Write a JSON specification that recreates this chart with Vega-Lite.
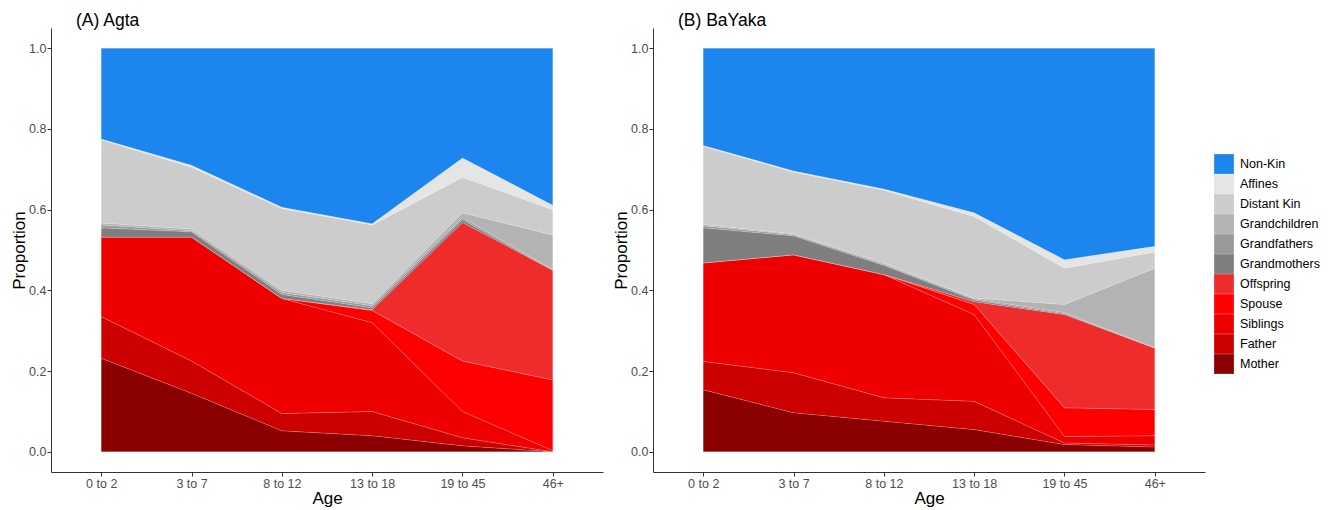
{
  "$schema": "https://vega.github.io/schema/vega-lite/v6.json",
  "padding": {"left": 10, "top": 12, "right": 5, "bottom": 2},
  "background": "white",
  "config": {
    "view": {"stroke": null},
    "font": "Liberation Sans",
    "axis": {"grid": false, "domainColor": "#333333", "domainWidth": 1, "tickColor": "#333333", "tickSize": 4, "labelColor": "#4D4D4D", "labelFontSize": 12.5, "labelFont": "Liberation Sans", "titleFont": "Liberation Sans", "titleFontSize": 17, "titleFontWeight": "normal", "titleColor": "#000000", "labelPadding": 1},
    "title": {"font": "Liberation Sans", "fontSize": 17.5, "fontWeight": "normal", "color": "#000000", "anchor": "start", "frame": "group", "dx": 25, "offset": -1.5},
    "concat": {"spacing": 9}
  },
  "datasets": {
    "kinorder": [
      {"kin": "Mother", "k": 1},
      {"kin": "Father", "k": 2},
      {"kin": "Siblings", "k": 3},
      {"kin": "Spouse", "k": 4},
      {"kin": "Offspring", "k": 5},
      {"kin": "Grandmothers", "k": 6},
      {"kin": "Grandfathers", "k": 7},
      {"kin": "Grandchildren", "k": 8},
      {"kin": "Distant Kin", "k": 9},
      {"kin": "Affines", "k": 10},
      {"kin": "Non-Kin", "k": 11}
    ]
  },
  "data": {"values": [
    {"panel": "A", "age": "0 to 2", "kin": "Mother", "p": 0.232},
    {"panel": "A", "age": "0 to 2", "kin": "Father", "p": 0.103},
    {"panel": "A", "age": "0 to 2", "kin": "Siblings", "p": 0.197},
    {"panel": "A", "age": "0 to 2", "kin": "Spouse", "p": 0.0},
    {"panel": "A", "age": "0 to 2", "kin": "Offspring", "p": 0.0},
    {"panel": "A", "age": "0 to 2", "kin": "Grandmothers", "p": 0.023},
    {"panel": "A", "age": "0 to 2", "kin": "Grandfathers", "p": 0.007},
    {"panel": "A", "age": "0 to 2", "kin": "Grandchildren", "p": 0.005},
    {"panel": "A", "age": "0 to 2", "kin": "Distant Kin", "p": 0.206},
    {"panel": "A", "age": "0 to 2", "kin": "Affines", "p": 0.002},
    {"panel": "A", "age": "0 to 2", "kin": "Non-Kin", "p": 0.225},
    {"panel": "A", "age": "3 to 7", "kin": "Mother", "p": 0.145},
    {"panel": "A", "age": "3 to 7", "kin": "Father", "p": 0.08},
    {"panel": "A", "age": "3 to 7", "kin": "Siblings", "p": 0.307},
    {"panel": "A", "age": "3 to 7", "kin": "Spouse", "p": 0.0},
    {"panel": "A", "age": "3 to 7", "kin": "Offspring", "p": 0.0},
    {"panel": "A", "age": "3 to 7", "kin": "Grandmothers", "p": 0.013},
    {"panel": "A", "age": "3 to 7", "kin": "Grandfathers", "p": 0.003},
    {"panel": "A", "age": "3 to 7", "kin": "Grandchildren", "p": 0.004},
    {"panel": "A", "age": "3 to 7", "kin": "Distant Kin", "p": 0.153},
    {"panel": "A", "age": "3 to 7", "kin": "Affines", "p": 0.005},
    {"panel": "A", "age": "3 to 7", "kin": "Non-Kin", "p": 0.29},
    {"panel": "A", "age": "8 to 12", "kin": "Mother", "p": 0.052},
    {"panel": "A", "age": "8 to 12", "kin": "Father", "p": 0.043},
    {"panel": "A", "age": "8 to 12", "kin": "Siblings", "p": 0.285},
    {"panel": "A", "age": "8 to 12", "kin": "Spouse", "p": 0.0},
    {"panel": "A", "age": "8 to 12", "kin": "Offspring", "p": 0.0},
    {"panel": "A", "age": "8 to 12", "kin": "Grandmothers", "p": 0.01},
    {"panel": "A", "age": "8 to 12", "kin": "Grandfathers", "p": 0.005},
    {"panel": "A", "age": "8 to 12", "kin": "Grandchildren", "p": 0.005},
    {"panel": "A", "age": "8 to 12", "kin": "Distant Kin", "p": 0.203},
    {"panel": "A", "age": "8 to 12", "kin": "Affines", "p": 0.003},
    {"panel": "A", "age": "8 to 12", "kin": "Non-Kin", "p": 0.394},
    {"panel": "A", "age": "13 to 18", "kin": "Mother", "p": 0.04},
    {"panel": "A", "age": "13 to 18", "kin": "Father", "p": 0.06},
    {"panel": "A", "age": "13 to 18", "kin": "Siblings", "p": 0.22},
    {"panel": "A", "age": "13 to 18", "kin": "Spouse", "p": 0.03},
    {"panel": "A", "age": "13 to 18", "kin": "Offspring", "p": 0.002},
    {"panel": "A", "age": "13 to 18", "kin": "Grandmothers", "p": 0.005},
    {"panel": "A", "age": "13 to 18", "kin": "Grandfathers", "p": 0.005},
    {"panel": "A", "age": "13 to 18", "kin": "Grandchildren", "p": 0.005},
    {"panel": "A", "age": "13 to 18", "kin": "Distant Kin", "p": 0.195},
    {"panel": "A", "age": "13 to 18", "kin": "Affines", "p": 0.003},
    {"panel": "A", "age": "13 to 18", "kin": "Non-Kin", "p": 0.435},
    {"panel": "A", "age": "19 to 45", "kin": "Mother", "p": 0.015},
    {"panel": "A", "age": "19 to 45", "kin": "Father", "p": 0.02},
    {"panel": "A", "age": "19 to 45", "kin": "Siblings", "p": 0.065},
    {"panel": "A", "age": "19 to 45", "kin": "Spouse", "p": 0.125},
    {"panel": "A", "age": "19 to 45", "kin": "Offspring", "p": 0.343},
    {"panel": "A", "age": "19 to 45", "kin": "Grandmothers", "p": 0.007},
    {"panel": "A", "age": "19 to 45", "kin": "Grandfathers", "p": 0.005},
    {"panel": "A", "age": "19 to 45", "kin": "Grandchildren", "p": 0.012},
    {"panel": "A", "age": "19 to 45", "kin": "Distant Kin", "p": 0.088},
    {"panel": "A", "age": "19 to 45", "kin": "Affines", "p": 0.048},
    {"panel": "A", "age": "19 to 45", "kin": "Non-Kin", "p": 0.272},
    {"panel": "A", "age": "46+", "kin": "Mother", "p": 0.0},
    {"panel": "A", "age": "46+", "kin": "Father", "p": 0.0},
    {"panel": "A", "age": "46+", "kin": "Siblings", "p": 0.003},
    {"panel": "A", "age": "46+", "kin": "Spouse", "p": 0.175},
    {"panel": "A", "age": "46+", "kin": "Offspring", "p": 0.272},
    {"panel": "A", "age": "46+", "kin": "Grandmothers", "p": 0.0},
    {"panel": "A", "age": "46+", "kin": "Grandfathers", "p": 0.002},
    {"panel": "A", "age": "46+", "kin": "Grandchildren", "p": 0.085},
    {"panel": "A", "age": "46+", "kin": "Distant Kin", "p": 0.063},
    {"panel": "A", "age": "46+", "kin": "Affines", "p": 0.011},
    {"panel": "A", "age": "46+", "kin": "Non-Kin", "p": 0.389},
    {"panel": "B", "age": "0 to 2", "kin": "Mother", "p": 0.154},
    {"panel": "B", "age": "0 to 2", "kin": "Father", "p": 0.07},
    {"panel": "B", "age": "0 to 2", "kin": "Siblings", "p": 0.244},
    {"panel": "B", "age": "0 to 2", "kin": "Spouse", "p": 0.0},
    {"panel": "B", "age": "0 to 2", "kin": "Offspring", "p": 0.0},
    {"panel": "B", "age": "0 to 2", "kin": "Grandmothers", "p": 0.087},
    {"panel": "B", "age": "0 to 2", "kin": "Grandfathers", "p": 0.005},
    {"panel": "B", "age": "0 to 2", "kin": "Grandchildren", "p": 0.003},
    {"panel": "B", "age": "0 to 2", "kin": "Distant Kin", "p": 0.194},
    {"panel": "B", "age": "0 to 2", "kin": "Affines", "p": 0.002},
    {"panel": "B", "age": "0 to 2", "kin": "Non-Kin", "p": 0.241},
    {"panel": "B", "age": "3 to 7", "kin": "Mother", "p": 0.097},
    {"panel": "B", "age": "3 to 7", "kin": "Father", "p": 0.099},
    {"panel": "B", "age": "3 to 7", "kin": "Siblings", "p": 0.292},
    {"panel": "B", "age": "3 to 7", "kin": "Spouse", "p": 0.0},
    {"panel": "B", "age": "3 to 7", "kin": "Offspring", "p": 0.0},
    {"panel": "B", "age": "3 to 7", "kin": "Grandmothers", "p": 0.047},
    {"panel": "B", "age": "3 to 7", "kin": "Grandfathers", "p": 0.003},
    {"panel": "B", "age": "3 to 7", "kin": "Grandchildren", "p": 0.002},
    {"panel": "B", "age": "3 to 7", "kin": "Distant Kin", "p": 0.153},
    {"panel": "B", "age": "3 to 7", "kin": "Affines", "p": 0.003},
    {"panel": "B", "age": "3 to 7", "kin": "Non-Kin", "p": 0.304},
    {"panel": "B", "age": "8 to 12", "kin": "Mother", "p": 0.076},
    {"panel": "B", "age": "8 to 12", "kin": "Father", "p": 0.058},
    {"panel": "B", "age": "8 to 12", "kin": "Siblings", "p": 0.305},
    {"panel": "B", "age": "8 to 12", "kin": "Spouse", "p": 0.0},
    {"panel": "B", "age": "8 to 12", "kin": "Offspring", "p": 0.0},
    {"panel": "B", "age": "8 to 12", "kin": "Grandmothers", "p": 0.023},
    {"panel": "B", "age": "8 to 12", "kin": "Grandfathers", "p": 0.003},
    {"panel": "B", "age": "8 to 12", "kin": "Grandchildren", "p": 0.003},
    {"panel": "B", "age": "8 to 12", "kin": "Distant Kin", "p": 0.18},
    {"panel": "B", "age": "8 to 12", "kin": "Affines", "p": 0.003},
    {"panel": "B", "age": "8 to 12", "kin": "Non-Kin", "p": 0.349},
    {"panel": "B", "age": "13 to 18", "kin": "Mother", "p": 0.055},
    {"panel": "B", "age": "13 to 18", "kin": "Father", "p": 0.07},
    {"panel": "B", "age": "13 to 18", "kin": "Siblings", "p": 0.215},
    {"panel": "B", "age": "13 to 18", "kin": "Spouse", "p": 0.025},
    {"panel": "B", "age": "13 to 18", "kin": "Offspring", "p": 0.007},
    {"panel": "B", "age": "13 to 18", "kin": "Grandmothers", "p": 0.004},
    {"panel": "B", "age": "13 to 18", "kin": "Grandfathers", "p": 0.003},
    {"panel": "B", "age": "13 to 18", "kin": "Grandchildren", "p": 0.002},
    {"panel": "B", "age": "13 to 18", "kin": "Distant Kin", "p": 0.202},
    {"panel": "B", "age": "13 to 18", "kin": "Affines", "p": 0.009},
    {"panel": "B", "age": "13 to 18", "kin": "Non-Kin", "p": 0.408},
    {"panel": "B", "age": "19 to 45", "kin": "Mother", "p": 0.018},
    {"panel": "B", "age": "19 to 45", "kin": "Father", "p": 0.004},
    {"panel": "B", "age": "19 to 45", "kin": "Siblings", "p": 0.016},
    {"panel": "B", "age": "19 to 45", "kin": "Spouse", "p": 0.071},
    {"panel": "B", "age": "19 to 45", "kin": "Offspring", "p": 0.231},
    {"panel": "B", "age": "19 to 45", "kin": "Grandmothers", "p": 0.002},
    {"panel": "B", "age": "19 to 45", "kin": "Grandfathers", "p": 0.003},
    {"panel": "B", "age": "19 to 45", "kin": "Grandchildren", "p": 0.02},
    {"panel": "B", "age": "19 to 45", "kin": "Distant Kin", "p": 0.09},
    {"panel": "B", "age": "19 to 45", "kin": "Affines", "p": 0.021},
    {"panel": "B", "age": "19 to 45", "kin": "Non-Kin", "p": 0.524},
    {"panel": "B", "age": "46+", "kin": "Mother", "p": 0.012},
    {"panel": "B", "age": "46+", "kin": "Father", "p": 0.005},
    {"panel": "B", "age": "46+", "kin": "Siblings", "p": 0.023},
    {"panel": "B", "age": "46+", "kin": "Spouse", "p": 0.065},
    {"panel": "B", "age": "46+", "kin": "Offspring", "p": 0.152},
    {"panel": "B", "age": "46+", "kin": "Grandmothers", "p": 0.0},
    {"panel": "B", "age": "46+", "kin": "Grandfathers", "p": 0.001},
    {"panel": "B", "age": "46+", "kin": "Grandchildren", "p": 0.197},
    {"panel": "B", "age": "46+", "kin": "Distant Kin", "p": 0.04},
    {"panel": "B", "age": "46+", "kin": "Affines", "p": 0.014},
    {"panel": "B", "age": "46+", "kin": "Non-Kin", "p": 0.491}
  ]},
  "hconcat": [
    {
      "title": "(A) Agta",
      "width": 552,
      "height": 444,
      "transform": [
        {"filter": "datum.panel === 'A'"},
        {"lookup": "kin", "from": {"data": {"name": "kinorder"}, "key": "kin", "fields": ["k"]}}
      ],
      "mark": {"type": "area", "stroke": "#ffffff", "strokeOpacity": 0.25, "strokeWidth": 0.6},
      "encoding": {
        "x": {"field": "age", "type": "ordinal", "sort": ["0 to 2", "3 to 7", "8 to 12", "13 to 18", "19 to 45", "46+"], "scale": {"type": "point", "padding": 0.556}, "axis": {"title": "Age", "labelAngle": 0, "titlePadding": 1}},
        "y": {"field": "p", "type": "quantitative", "stack": "zero", "scale": {"domain": [-0.05, 1.05], "nice": false, "zero": false}, "axis": {"title": "Proportion", "values": [0, 0.2, 0.4, 0.6, 0.8, 1.0], "format": ".1f", "titlePadding": 0}},
        "order": {"field": "k", "type": "quantitative", "sort": "ascending"},
        "color": {"field": "kin", "type": "nominal",
          "scale": {"domain": ["Non-Kin", "Affines", "Distant Kin", "Grandchildren", "Grandfathers", "Grandmothers", "Offspring", "Spouse", "Siblings", "Father", "Mother"], "range": ["#1C86EE", "#E5E5E5", "#CCCCCC", "#B3B3B3", "#999999", "#7F7F7F", "#EE2C2C", "#FF0000", "#EE0000", "#CD0000", "#8B0000"]},
          "legend": {"title": null, "orient": "none", "legendX": 1163, "legendY": 126, "symbolType": "square", "symbolSize": 390, "symbolStrokeWidth": 0, "symbolOpacity": 1, "rowPadding": 0, "labelFontSize": 12.5, "labelColor": "#000000", "labelOffset": 6, "labelFont": "Liberation Sans"}}
      }
    },
    {
      "title": "(B) BaYaka",
      "width": 552,
      "height": 444,
      "transform": [
        {"filter": "datum.panel === 'B'"},
        {"lookup": "kin", "from": {"data": {"name": "kinorder"}, "key": "kin", "fields": ["k"]}}
      ],
      "mark": {"type": "area", "stroke": "#ffffff", "strokeOpacity": 0.25, "strokeWidth": 0.6},
      "encoding": {
        "x": {"field": "age", "type": "ordinal", "sort": ["0 to 2", "3 to 7", "8 to 12", "13 to 18", "19 to 45", "46+"], "scale": {"type": "point", "padding": 0.556}, "axis": {"title": "Age", "labelAngle": 0, "titlePadding": 1}},
        "y": {"field": "p", "type": "quantitative", "stack": "zero", "scale": {"domain": [-0.05, 1.05], "nice": false, "zero": false}, "axis": {"title": "Proportion", "values": [0, 0.2, 0.4, 0.6, 0.8, 1.0], "format": ".1f", "titlePadding": 0}},
        "order": {"field": "k", "type": "quantitative", "sort": "ascending"},
        "color": {"field": "kin", "type": "nominal",
          "scale": {"domain": ["Non-Kin", "Affines", "Distant Kin", "Grandchildren", "Grandfathers", "Grandmothers", "Offspring", "Spouse", "Siblings", "Father", "Mother"], "range": ["#1C86EE", "#E5E5E5", "#CCCCCC", "#B3B3B3", "#999999", "#7F7F7F", "#EE2C2C", "#FF0000", "#EE0000", "#CD0000", "#8B0000"]}}
      }
    }
  ]
}
